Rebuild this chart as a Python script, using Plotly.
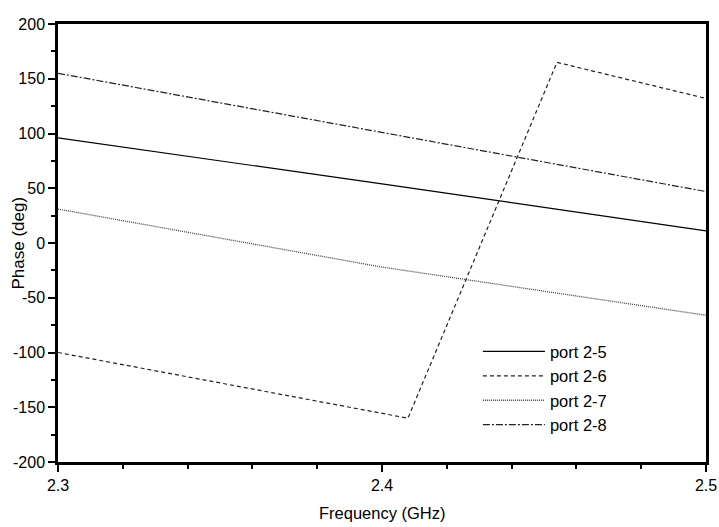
import plotly.graph_objects as go

freq_25 = [2.3, 2.4, 2.5]
phase_25 = [96, 54, 11]

freq_26 = [2.3, 2.408, 2.454, 2.5]
phase_26 = [-100, -160, 165, 132]

freq_27 = [2.3, 2.4, 2.5]
phase_27 = [31, -22, -66]

freq_28 = [2.3, 2.4, 2.5]
phase_28 = [155, 101, 47]

y_ticks = [-200, -150, -100, -50, 0, 50, 100, 150, 200]
y_ticklabels = ["-200", "-150", "-100", "-50", "0", "50", "100", "150", "200"]
x_ticks = [2.3, 2.4, 2.5]
x_ticklabels = ["2.3", "2.4", "2.5"]

series = [
    ("port 2-5", freq_25, phase_25, dict(color="black", width=1.2, dash="solid")),
    ("port 2-6", freq_26, phase_26, dict(color="#222222", width=1.2, dash="4px,3px")),
    ("port 2-7", freq_27, phase_27, dict(color="#444444", width=1.3, dash="1px,1px")),
    ("port 2-8", freq_28, phase_28, dict(color="#222222", width=1.2, dash="7px,2px,2px,2px")),
]

fig = go.Figure()
for name, x, y, line in series:
    fig.add_trace(go.Scatter(x=x, y=y, mode="lines", name=name, line=line))

font_family = "Liberation Sans, Arial, sans-serif"
fig.update_layout(
    width=719, height=527,
    margin=dict(l=58, r=13, t=24, b=65),
    paper_bgcolor="white", plot_bgcolor="white",
    font=dict(family=font_family, color="black", size=16),
    showlegend=True,
    legend=dict(
        x=0.648, y=0.292, xanchor="left", yanchor="top",
        font=dict(size=16.5, family=font_family),
        itemwidth=62, tracegroupgap=0,
        bgcolor="rgba(0,0,0,0)",
    ),
    annotations=[
        dict(text="Frequency (GHz)", xref="paper", yref="paper", x=0.5, y=-0.117,
             xanchor="center", yanchor="middle", showarrow=False,
             font=dict(size=16.5, family=font_family)),
        dict(text="Phase (deg)", xref="paper", yref="paper", x=-0.0625, y=0.5,
             xanchor="center", yanchor="middle", showarrow=False, textangle=-90,
             font=dict(size=17, family=font_family)),
    ],
)
fig.update_xaxes(
    range=[2.3, 2.5], automargin=False,
    tickvals=x_ticks, ticktext=x_ticklabels,
    ticks="outside", ticklen=7, tickwidth=2, tickcolor="black",
    minor=dict(dtick=0.02, tick0=2.3, ticks="outside", ticklen=4, tickwidth=2, tickcolor="black"),
    showline=True, linecolor="black", linewidth=2.5, mirror=True,
    showgrid=False, zeroline=False,
    tickfont=dict(size=16),
)
fig.update_yaxes(
    range=[-200, 200], automargin=False,
    tickvals=y_ticks, ticktext=y_ticklabels,
    ticks="outside", ticklen=7, tickwidth=2, tickcolor="black",
    minor=dict(dtick=25, tick0=0, ticks="outside", ticklen=4, tickwidth=2, tickcolor="black"),
    showline=True, linecolor="black", linewidth=2.5, mirror=True,
    showgrid=False, zeroline=False,
    tickfont=dict(size=16),
)

fig.write_html("out.html", config={"displayModeBar": False},
               post_script="document.body.style.margin='0';document.body.style.overflow='hidden';")
